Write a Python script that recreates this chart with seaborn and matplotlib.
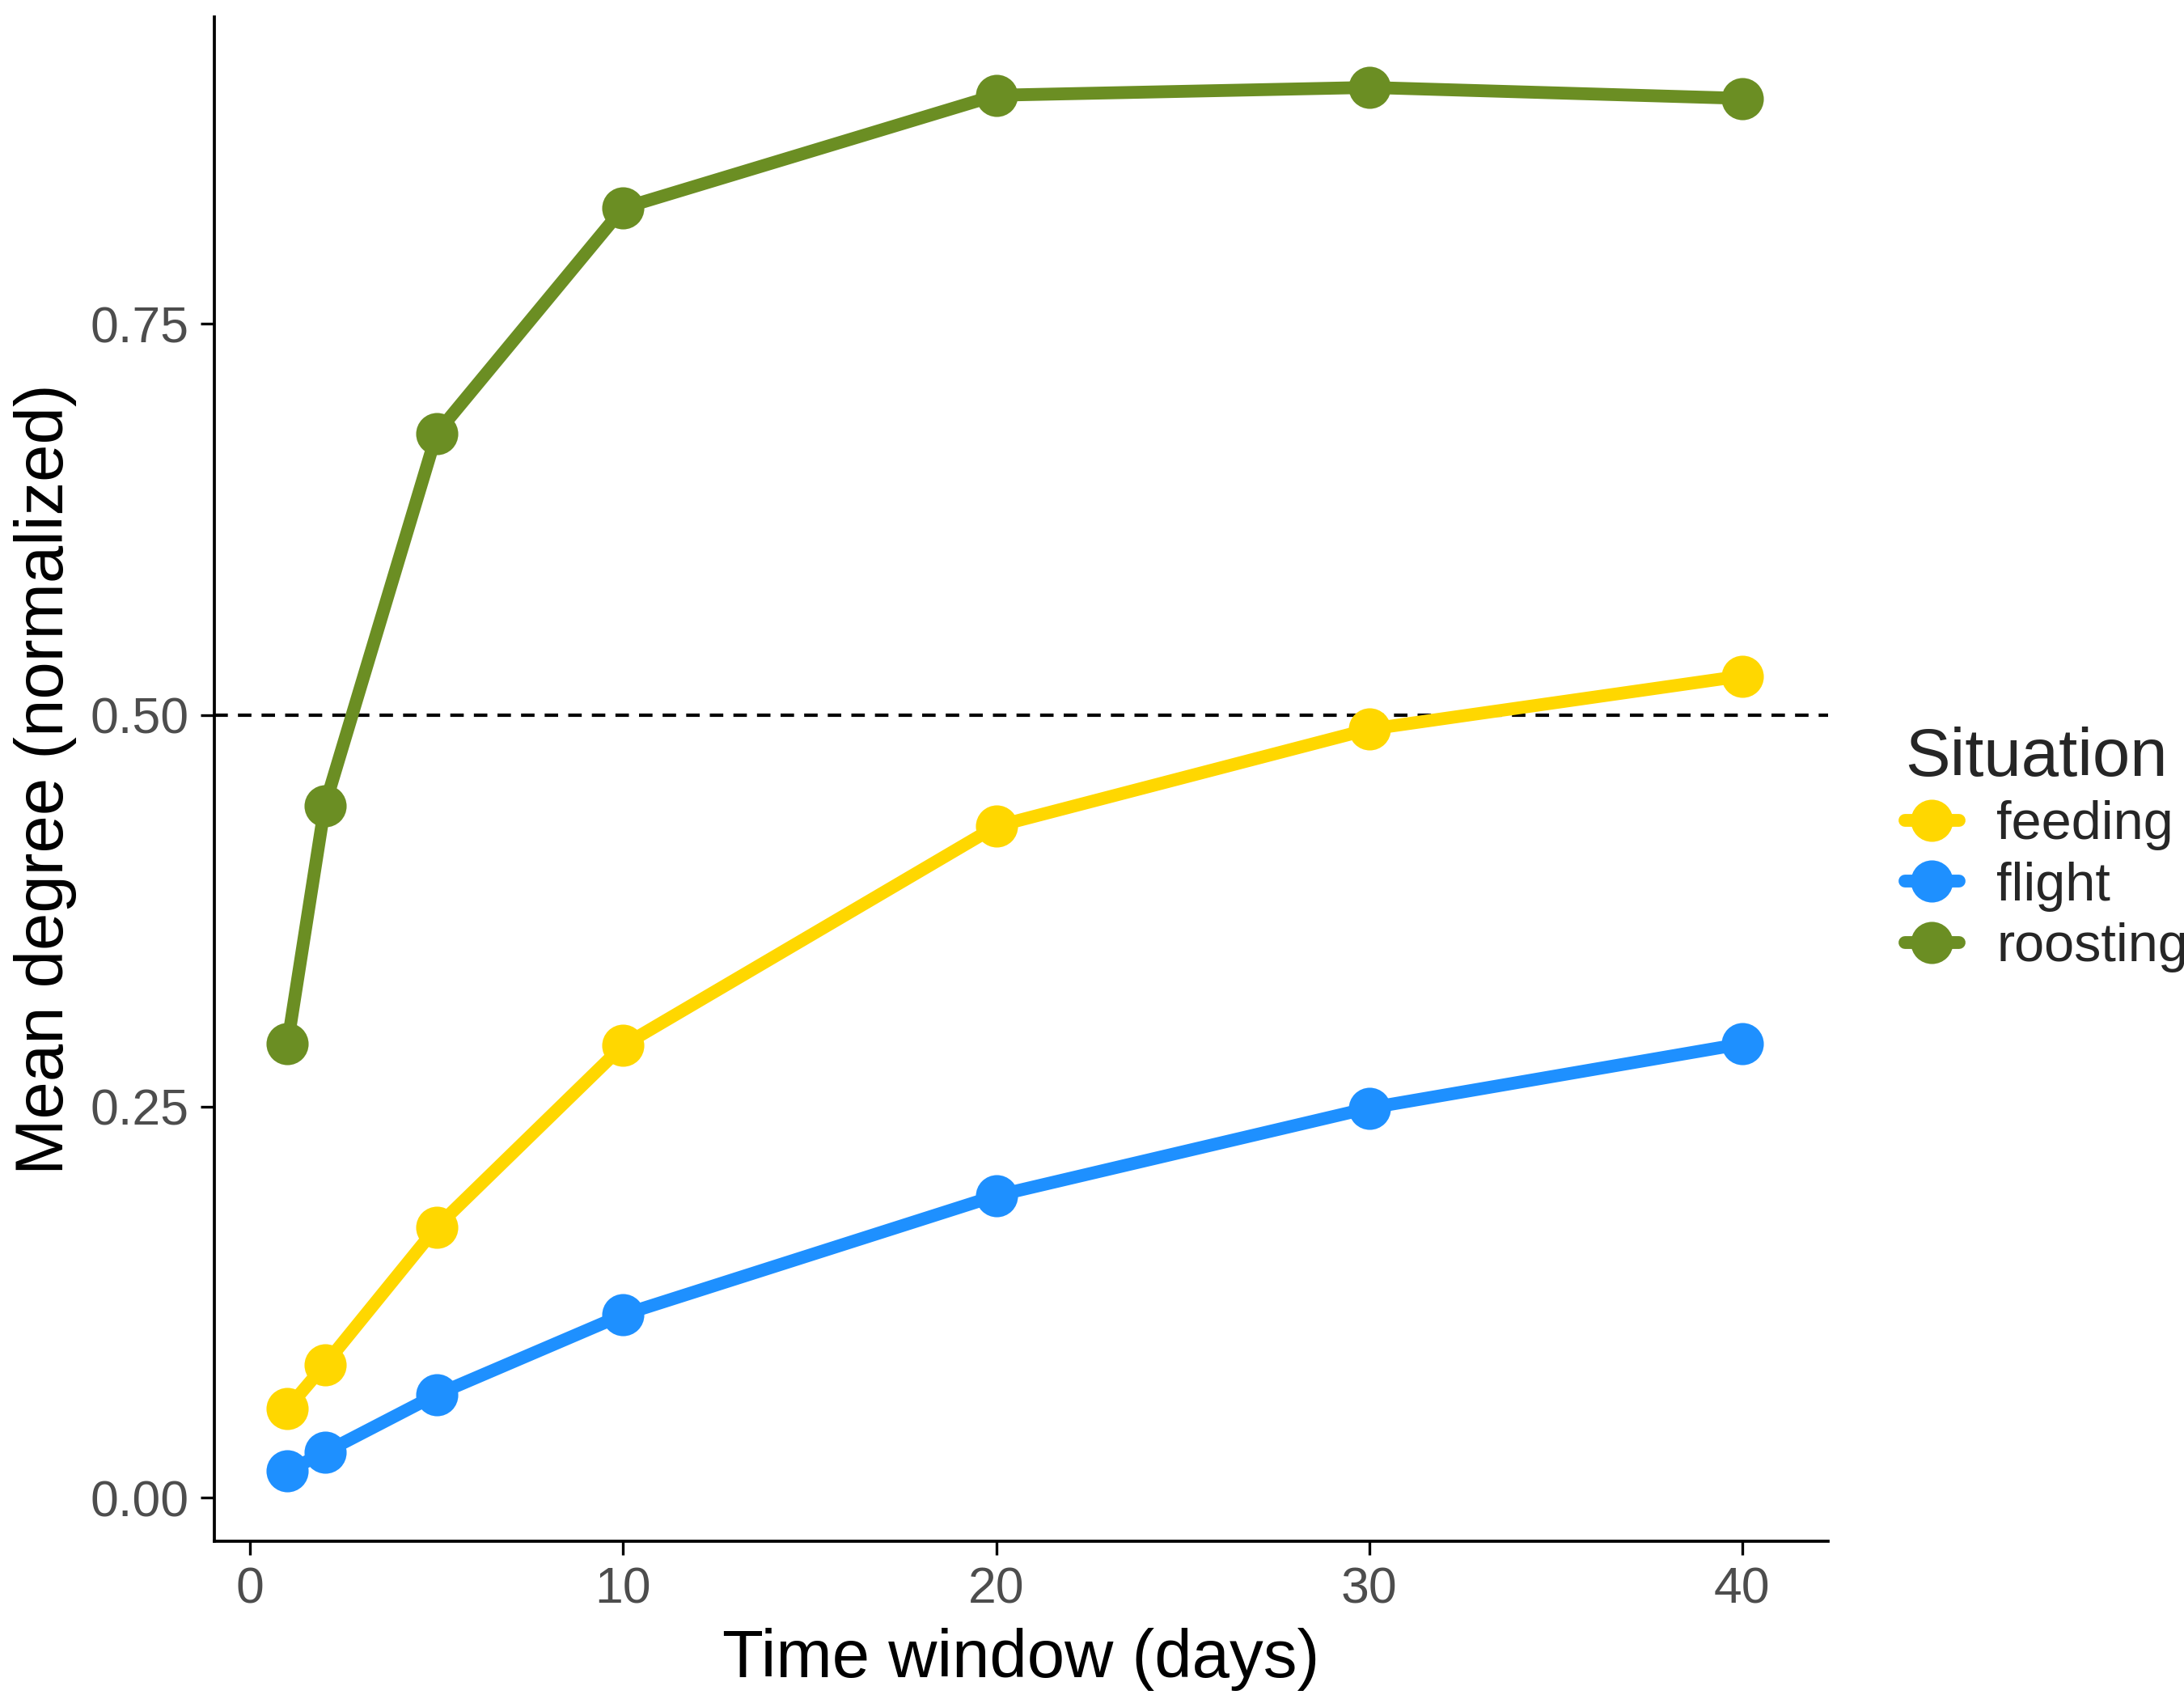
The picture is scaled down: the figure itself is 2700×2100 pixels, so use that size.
import matplotlib
matplotlib.use("Agg")
import matplotlib.pyplot as plt
import seaborn as sns
import pandas as pd

days = [1, 2, 5, 10, 20, 30, 40]
feeding = [0.057, 0.085, 0.173, 0.289, 0.429, 0.491, 0.525]
flight = [0.017, 0.029, 0.066, 0.117, 0.193, 0.249, 0.290]
roosting = [0.290, 0.442, 0.680, 0.824, 0.896, 0.901, 0.894]
situations = ["feeding", "flight", "roosting"]
colors = {"feeding": "#FFD700", "flight": "#1E90FF", "roosting": "#6B8E23"}

df = pd.DataFrame({
    "days": days * 3,
    "degree": feeding + flight + roosting,
    "Situation": [s for s in situations for _ in days],
})

sns.set_style("white")
plt.rcParams["font.family"] = ["Liberation Sans", "DejaVu Sans"]

fig = plt.figure(figsize=(9, 7), dpi=300)
ax = fig.add_axes([0.098, 0.093, 0.739, 0.897])

sns.lineplot(data=df, x="days", y="degree", hue="Situation", palette=colors,
             marker="o", markersize=12.5, markeredgewidth=0, linewidth=3.8,
             ax=ax, legend=False)
ax.axhline(0.5, color="black", linestyle=(0, (4, 3)), linewidth=1.0, zorder=0)

ax.set_xlim(-0.97, 42.3)
ax.set_ylim(-0.0276, 0.946)
ax.set_xticks([0, 10, 20, 30, 40])
ax.set_yticks([0, 0.25, 0.5, 0.75])
ax.set_yticklabels(["0.00", "0.25", "0.50", "0.75"])
ax.tick_params(axis="both", labelsize=15, colors="black", labelcolor="#4D4D4D",
               length=4, width=0.8, bottom=True, left=True)
for s in ["top", "right"]:
    ax.spines[s].set_visible(False)
for s in ["left", "bottom"]:
    ax.spines[s].set_color("black")
    ax.spines[s].set_linewidth(0.9)
ax.set_xlabel("Time window (days)", fontsize=20, color="black")
ax.set_ylabel("Mean degree (normalized)", fontsize=20, color="black")

handles = [plt.Line2D([], [], color=colors[s], marker="o", markersize=12.5,
                      markeredgewidth=0, linewidth=3.8) for s in situations]
leg = fig.legend(handles, situations, title="Situation", loc="center left",
                 bbox_to_anchor=(0.85, 0.5), frameon=False, fontsize=16,
                 title_fontsize=20, handlelength=1.0, labelspacing=0.2,
                 handletextpad=0.7)
leg._legend_box.align = "left"

fig.savefig("out.png", dpi=300)
